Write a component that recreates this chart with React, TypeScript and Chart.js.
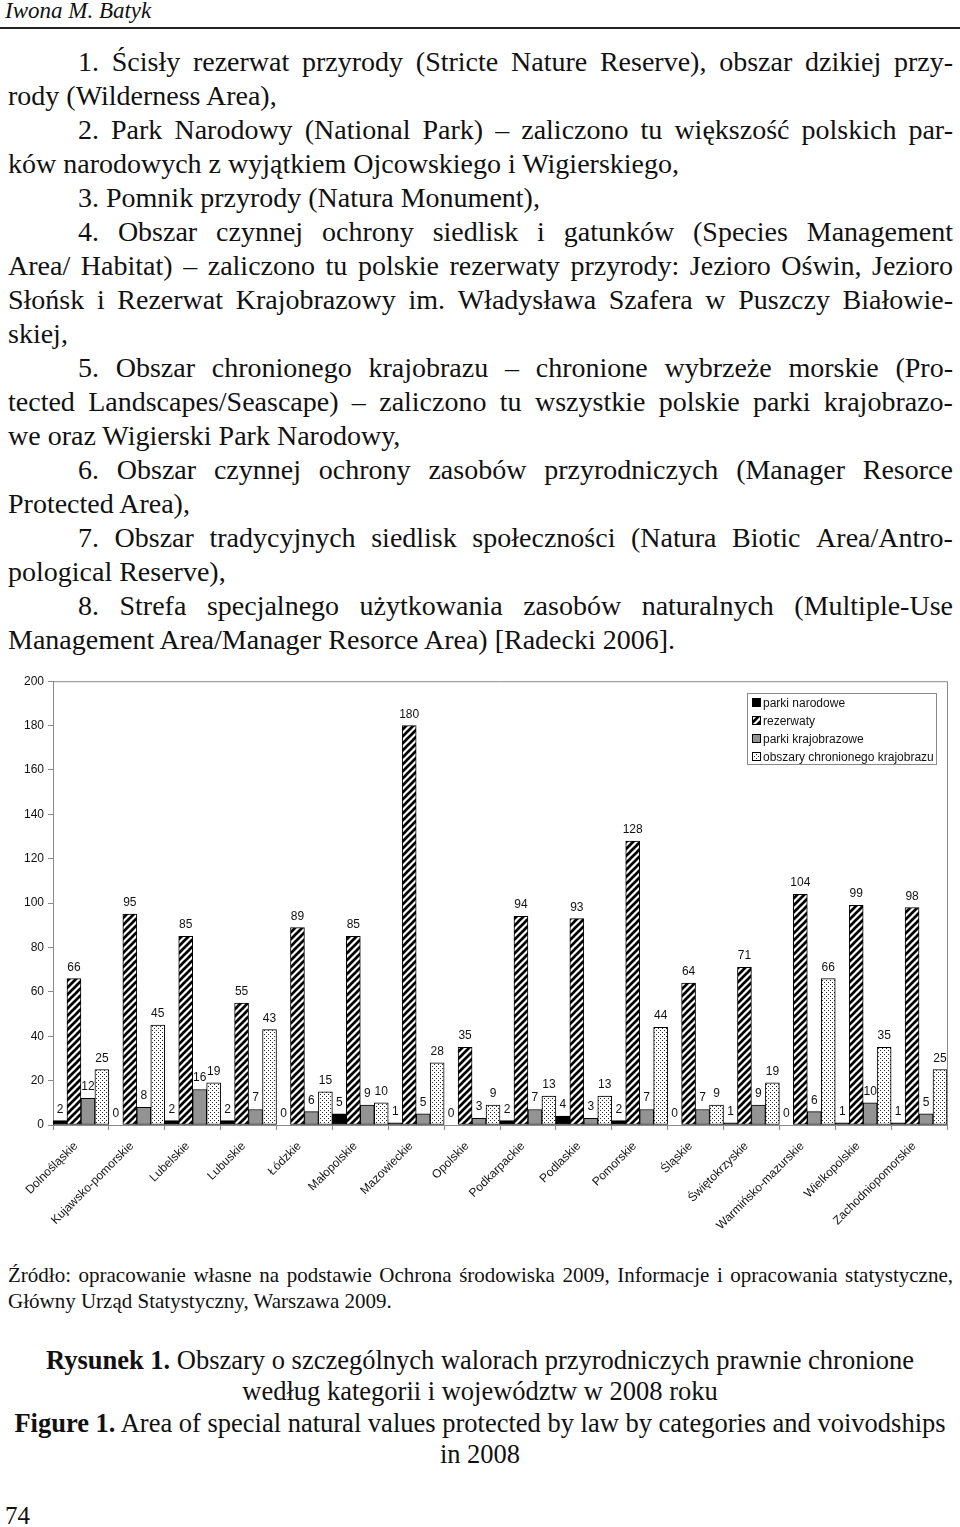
import React, { useEffect, useRef } from 'react';
import { Chart, registerables } from 'chart.js';

Chart.register(...registerables);

// ---------- DATA ----------
const categories = [
  'Dolnośląskie',
  'Kujawsko-pomorskie',
  'Lubelskie',
  'Lubuskie',
  'Łódzkie',
  'Małopolskie',
  'Mazowieckie',
  'Opolskie',
  'Podkarpackie',
  'Podlaskie',
  'Pomorskie',
  'Śląskie',
  'Świętokrzyskie',
  'Warmińsko-mazurskie',
  'Wielkopolskie',
  'Zachodniopomorskie',
];
const parkiNarodowe = [2, 0, 2, 2, 0, 5, 1, 0, 2, 4, 2, 0, 1, 0, 1, 1];
const rezerwaty = [66, 95, 85, 55, 89, 85, 180, 35, 94, 93, 128, 64, 71, 104, 99, 98];
const parkiKrajobrazowe = [12, 8, 16, 7, 6, 9, 5, 3, 7, 3, 7, 7, 9, 6, 10, 5];
const obszaryChronionegoKrajobrazu = [25, 45, 19, 43, 15, 10, 28, 9, 13, 13, 44, 9, 19, 66, 35, 25];
const seriesNames = ['parki narodowe', 'rezerwaty', 'parki krajobrazowe', 'obszary chronionego krajobrazu'];
const yMin = 0;
const yMax = 200;
const yStep = 20;

// ---------- TEXT ----------
const bodyLines: { t: string; x: number; j?: boolean }[] = [
  { t: '1. Ścisły rezerwat przyrody (Stricte Nature Reserve), obszar dzikiej przy-', x: 78, j: true },
  { t: 'rody (Wilderness Area),', x: 8 },
  { t: '2. Park Narodowy (National Park) – zaliczono tu większość polskich par-', x: 78, j: true },
  { t: 'ków narodowych z wyjątkiem Ojcowskiego i Wigierskiego,', x: 8 },
  { t: '3. Pomnik przyrody (Natura Monument),', x: 78 },
  { t: '4. Obszar czynnej ochrony siedlisk i gatunków (Species Management', x: 78, j: true },
  { t: 'Area/ Habitat) – zaliczono tu polskie rezerwaty przyrody: Jezioro Oświn, Jezioro', x: 8, j: true },
  { t: 'Słońsk i Rezerwat Krajobrazowy im. Władysława Szafera w Puszczy Białowie-', x: 8, j: true },
  { t: 'skiej,', x: 8 },
  { t: '5. Obszar chronionego krajobrazu – chronione wybrzeże morskie (Pro-', x: 78, j: true },
  { t: 'tected Landscapes/Seascape) – zaliczono tu wszystkie polskie parki krajobrazo-', x: 8, j: true },
  { t: 'we oraz Wigierski Park Narodowy,', x: 8 },
  { t: '6. Obszar czynnej ochrony zasobów przyrodniczych (Manager Resorce', x: 78, j: true },
  { t: 'Protected Area),', x: 8 },
  { t: '7. Obszar tradycyjnych siedlisk społeczności (Natura Biotic Area/Antro-', x: 78, j: true },
  { t: 'pological Reserve),', x: 8 },
  { t: '8. Strefa specjalnego użytkowania zasobów naturalnych (Multiple-Use', x: 78, j: true },
  { t: 'Management Area/Manager Resorce Area) [Radecki 2006].', x: 8 },
];

const SERIF = '"Liberation Serif", "Times New Roman", serif';
const SANS = '"Liberation Sans", Arial, sans-serif';

function TextLine(props: {
  text: React.ReactNode;
  x: number;
  y: number;
  size: number;
  right?: number;
  justify?: boolean;
  italic?: boolean;
  center?: boolean;
}) {
  const { text, x, y, size, right = 953, justify, italic, center } = props;
  const top = y - 0.657 * size;
  const base: React.CSSProperties = {
    position: 'absolute',
    top,
    left: x,
    fontFamily: SERIF,
    fontSize: size,
    lineHeight: `${size * 1.2}px`,
    color: '#111',
    whiteSpace: 'pre',
    fontStyle: italic ? 'italic' : 'normal',
  };
  if (center) {
    return <div style={{ ...base, left: 0, width: 960, textAlign: 'center' }}>{text}</div>;
  }
  if (justify && typeof text === 'string') {
    const words = text.split(' ');
    return (
      <div style={{ ...base, width: right - x, display: 'flex', justifyContent: 'space-between' }}>
        {words.map((w, i) => (
          <span key={i}>{w}</span>
        ))}
      </div>
    );
  }
  return <div style={base}>{text}</div>;
}

function makeHatch(): CanvasPattern | string {
  const s = 7;
  const c = document.createElement('canvas');
  c.width = s;
  c.height = s;
  const g = c.getContext('2d');
  if (!g) return '#fff';
  g.fillStyle = '#fff';
  g.fillRect(0, 0, s, s);
  g.strokeStyle = '#000';
  g.lineWidth = 2.7;
  g.beginPath();
  g.moveTo(-1, s + 1);
  g.lineTo(s + 1, -1);
  g.moveTo(-s / 2 - 1, s / 2 + 1);
  g.lineTo(s / 2 + 1, -s / 2 - 1);
  g.moveTo(s / 2 - 1, s * 1.5 + 1);
  g.lineTo(s * 1.5 + 1, s / 2 - 1);
  g.stroke();
  const p = g.createPattern(c, 'repeat');
  return p || '#fff';
}

function makeDots(): CanvasPattern | string {
  const s = 4;
  const c = document.createElement('canvas');
  c.width = s;
  c.height = s;
  const g = c.getContext('2d');
  if (!g) return '#eee';
  g.fillStyle = '#fff';
  g.fillRect(0, 0, s, s);
  g.fillStyle = '#222';
  g.fillRect(0, 0, 1, 1);
  g.fillRect(2, 2, 1, 1);
  const p = g.createPattern(c, 'repeat');
  return p || '#eee';
}

const frameAndLabels = {
  id: 'frameAndLabels',
  afterDatasetsDraw(chart: any) {
    const ctx = chart.ctx as CanvasRenderingContext2D;
    ctx.save();
    ctx.font = `12px ${SANS}`;
    ctx.fillStyle = '#111';
    ctx.textAlign = 'center';
    ctx.textBaseline = 'alphabetic';
    chart.data.datasets.forEach((ds: any, di: number) => {
      const meta = chart.getDatasetMeta(di);
      meta.data.forEach((el: any, i: number) => {
        ctx.fillText(String(ds.data[i]), el.x, el.y - 8);
      });
    });
    ctx.restore();
  },
  afterDraw(chart: any) {
    const ctx = chart.ctx as CanvasRenderingContext2D;
    const a = chart.chartArea;
    ctx.save();
    ctx.strokeStyle = '#8a8a8a';
    ctx.lineWidth = 1;
    ctx.beginPath();
    ctx.moveTo(a.left, a.top + 0.5);
    ctx.lineTo(a.right + 0.5, a.top + 0.5);
    ctx.lineTo(a.right + 0.5, a.bottom);
    ctx.stroke();

    // legend box
    const lx = 747;
    const ly = 23;
    const lw = 189;
    const lh = 71;
    ctx.fillStyle = '#fff';
    ctx.fillRect(lx, ly, lw, lh);
    ctx.strokeStyle = '#8a8a8a';
    ctx.strokeRect(lx + 0.5, ly + 0.5, lw, lh);
    ctx.font = `12px ${SANS}`;
    ctx.textAlign = 'left';
    ctx.textBaseline = 'middle';
    chart.data.datasets.forEach((ds: any, i: number) => {
      const yc = ly + 10 + i * 18;
      ctx.fillStyle = ds.backgroundColor;
      ctx.fillRect(752, yc - 4, 8, 8);
      ctx.strokeStyle = '#000';
      ctx.strokeRect(752.5, yc - 4.5, 8, 8);
      ctx.fillStyle = '#111';
      ctx.fillText(ds.label, 763, yc + 0.5);
    });
    ctx.restore();
  },
};

function BarChart() {
  const ref = useRef<HTMLCanvasElement | null>(null);
  useEffect(() => {
    if (!ref.current) return;
    const hatch = makeHatch();
    const dots = makeDots();
    const common = { borderColor: '#000', borderWidth: 1, borderSkipped: false as const };
    const chart = new Chart(ref.current, {
      type: 'bar',
      data: {
        labels: categories,
        datasets: [
          { label: seriesNames[0], data: parkiNarodowe, backgroundColor: '#000', ...common },
          { label: seriesNames[1], data: rezerwaty, backgroundColor: hatch as any, ...common },
          { label: seriesNames[2], data: parkiKrajobrazowe, backgroundColor: '#939393', ...common },
          { label: seriesNames[3], data: obszaryChronionegoKrajobrazu, backgroundColor: dots as any, ...common },
        ],
      },
      options: {
        animation: false,
        responsive: false,
        maintainAspectRatio: false,
        layout: { padding: { top: 9, right: 13, left: 0, bottom: 0 } },
        datasets: { bar: { categoryPercentage: 1, barPercentage: 1 } },
        plugins: { legend: { display: false }, tooltip: { enabled: false } },
        scales: {
          x: {
            grid: { display: true, drawOnChartArea: false, drawTicks: true, tickLength: 5, color: '#8a8a8a', offset: true },
            border: { display: true, color: '#8a8a8a', width: 1 },
            ticks: {
              autoSkip: false,
              maxRotation: 45,
              minRotation: 45,
              padding: 9,
              labelOffset: -5,
              color: '#111',
              font: { family: SANS, size: 12 },
            },
            afterFit: (s: any) => {
              s.height = 115;
            },
          },
          y: {
            min: yMin,
            max: yMax,
            ticks: { stepSize: yStep, padding: 4, color: '#111', font: { family: SANS, size: 12 } },
            grid: { display: true, drawOnChartArea: false, drawTicks: true, tickLength: 5, color: '#8a8a8a' },
            border: { display: true, color: '#8a8a8a', width: 1 },
            afterFit: (s: any) => {
              s.width = 53;
            },
          },
        },
      },
      plugins: [frameAndLabels],
    });
    return () => chart.destroy();
  }, []);
  return (
    <canvas
      ref={ref}
      width={960}
      height={570}
      style={{ position: 'absolute', left: 0, top: 670, width: 960, height: 570 }}
    />
  );
}

export default function App() {
  return (
    <div
      style={{
        position: 'absolute',
        left: 0,
        top: 0,
        width: 960,
        height: 1527,
        background: '#fff',
        overflow: 'hidden',
      }}
    >
      <TextLine text="Iwona M. Batyk" x={5} y={12} size={23} italic />
      <div style={{ position: 'absolute', left: 0, top: 27, width: 960, height: 2, background: '#222' }} />
      {bodyLines.map((l, i) => (
        <TextLine key={i} text={l.t} x={l.x} y={63 + i * 34.05} size={28} justify={l.j} />
      ))}
      <BarChart />
      <TextLine
        text="Źródło: opracowanie własne na podstawie Ochrona środowiska 2009, Informacje i opracowania statystyczne,"
        x={8}
        y={1277}
        size={21}
        justify
      />
      <TextLine text="Główny Urząd Statystyczny, Warszawa 2009." x={8} y={1303} size={21} />
      <TextLine
        text={
          <>
            <b>Rysunek 1.</b> Obszary o szczególnych walorach przyrodniczych prawnie chronione
          </>
        }
        x={0}
        y={1362}
        size={26.5}
        center
      />
      <TextLine text="według kategorii i województw w 2008 roku" x={0} y={1393} size={26.5} center />
      <TextLine
        text={
          <>
            <b>Figure 1.</b> Area of special natural values protected by law by categories and voivodships
          </>
        }
        x={0}
        y={1425}
        size={26.5}
        center
      />
      <TextLine text="in 2008" x={0} y={1456} size={26.5} center />
      <TextLine text="74" x={5} y={1517} size={25} />
    </div>
  );
}
